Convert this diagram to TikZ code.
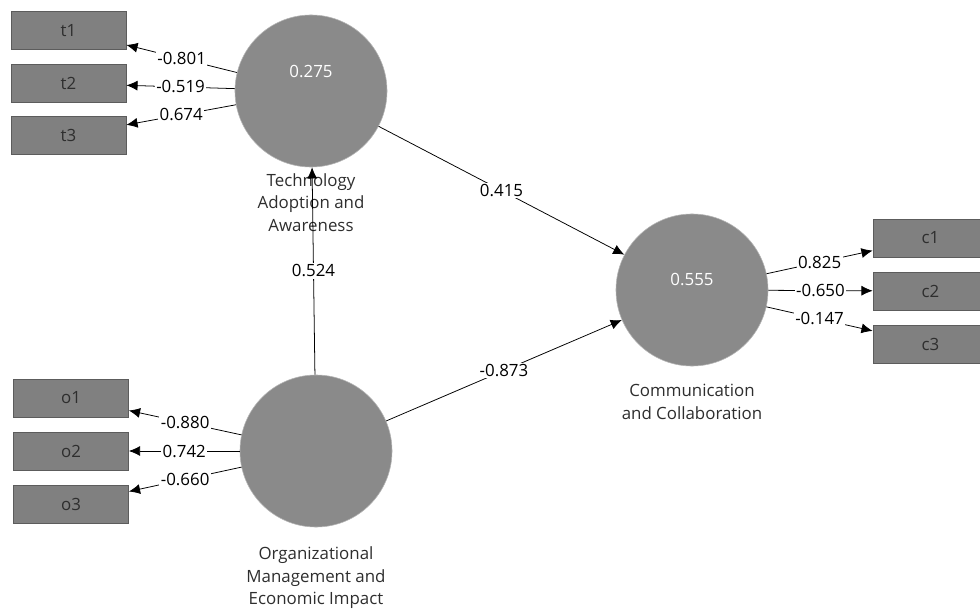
\documentclass[tikz,border=0pt]{standalone}
\usepackage{fontspec}
\setmainfont{Open Sans}
\usetikzlibrary{arrows.meta}
\usetikzlibrary{positioning}
\definecolor{lvfill}{HTML}{8A8A8A}
\definecolor{lvedge}{HTML}{B4B4B4}
\definecolor{mvfill}{HTML}{808080}
\definecolor{mvedge}{HTML}{5C5C5C}
\definecolor{txtgray}{HTML}{2E2E2E}

\begin{document}
\begin{tikzpicture}[x=0.025cm,y=-0.025cm,
    font=\fontsize{12}{16}\selectfont,
    lv/.style={circle,fill=lvfill,draw=lvedge,line width=0.4pt,minimum size=3.8cm,inner sep=0pt},
    mv/.style={rectangle,fill=mvfill,draw=mvedge,line width=0.5pt,minimum width=2.875cm,minimum height=0.95cm,text=txtgray},
    lvval/.style={text=white},
    lvname/.style={align=center,text=txtgray,inner sep=0pt},
    lbl/.style={fill=white,inner sep=1pt,text=black},
    arr/.style={-{Latex[length=2.8mm,width=2.5mm]},line width=0.55pt,black}]
  \useasboundingbox (0,0) rectangle (980,610);
  % latent variables
  \node[lv] (T) at (311,91) {};
  \node[lv] (C) at (692,290) {};
  \node[lv] (O) at (316,451) {};
  \node[lvval] (T_r2) at (311,72) {0.275};
  \node[lvval] (C_r2) at (692,280) {0.555};
  \node[lvname,below=0.15cm of T] (T_name) {Technology\\Adoption and\\Awareness};
  \node[lvname,below=0.45cm of C] (C_name) {Communication\\and Collaboration};
  \node[lvname,below=0.48cm of O] (O_name) {Organizational\\Management and\\Economic Impact};

  % indicators
  \node[mv] (t1) at (68.5,30.5) {t1};
  \node[mv] (t2) at (68.5,83.5) {t2};
  \node[mv] (t3) at (68.5,135.5) {t3};
  \node[mv] (o1) at (71,398) {o1};
  \node[mv] (o2) at (71,451) {o2};
  \node[mv] (o3) at (71,504) {o3};
  \node[mv] (c1) at (930.5,238) {c1};
  \node[mv] (c2) at (930.5,291) {c2};
  \node[mv] (c3) at (930.5,344) {c3};

  \path[arr]
    (T) edge node[lbl] {-0.801} (t1)
    (T) edge node[lbl] {-0.519} (t2)
    (T) edge node[lbl] {0.674} (t3)
    (O) edge node[lbl] {-0.880} (o1)
    (O) edge node[lbl] {0.742} (o2)
    (O) edge node[lbl] {-0.660} (o3)
    (C) edge node[lbl] {0.825} (c1)
    (C) edge node[lbl] {-0.650} (c2)
    (C) edge node[lbl] {-0.147} (c3)
    (T) edge node[lbl] {0.415} (C)
    (O) edge node[lbl] {-0.873} (C)
    (O) edge node[lbl] {0.524} (T);
\end{tikzpicture}
\end{document}
